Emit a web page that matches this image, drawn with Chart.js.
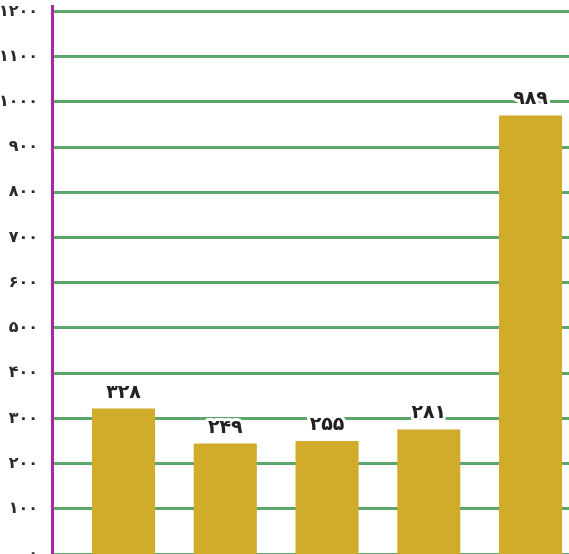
<!DOCTYPE html>
<html>
<head>
<meta charset="utf-8">
<script src="https://cdn.jsdelivr.net/npm/chart.js@4.4.1/dist/chart.umd.min.js"></script>
<style>
    html, body { margin: 0; padding: 0; background: #fff; overflow: hidden; }
    #wrap { width: 569px; height: 554px; }
</style>
</head>
<body>
<div id="wrap"><canvas id="chart" width="569" height="554"></canvas></div>
<script>
// values
const positions = [0, 1, 2, 3, 4];
const values = [328, 249, 255, 281, 989];
const yTickMax = 1200;
const yTickStep = 100;

const FA_DIGITS = "۰۱۲۳۴۵۶۷۸۹";
const toFa = (n) => String(n).replace(/\d/g, (d) => FA_DIGITS[d]);

const valueLabels = {
    id: "valueLabels",
    afterDatasetsDraw(chart) {
        const ctx = chart.ctx;
        const meta = chart.getDatasetMeta(0);
        ctx.save();
        ctx.font = "bold 19px 'DejaVu Sans'";
        ctx.textAlign = "center";
        ctx.textBaseline = "middle";
        ctx.lineJoin = "round";
        meta.data.forEach((bar, i) => {
            const txt = toFa(values[i]);
            const y = bar.y - 16;
            ctx.lineWidth = 6;
            ctx.strokeStyle = "#ffffff";
            ctx.strokeText(txt, bar.x, y);
            ctx.fillStyle = "#222222";
            ctx.fillText(txt, bar.x, y);
        });
        ctx.restore();
    },
};

new Chart(document.getElementById("chart"), {
    type: "bar",
    data: {
        datasets: [{
            data: positions.map((x, i) => ({ x: x, y: values[i] })),
            backgroundColor: "#d1ac2b",
            categoryPercentage: 1,
            barPercentage: 0.62,
            yAxisID: "yBar",
        }],
    },
    options: {
        responsive: false,
        animation: false,
        layout: { padding: { top: 6, right: 0, bottom: 0, left: 0 } },
        plugins: { legend: { display: false }, tooltip: { enabled: false } },
        scales: {
            x: {
                type: "linear",
                min: -0.703,
                max: 4.378,
                offset: false,
                display: false,
                ticks: { stepSize: 1, includeBounds: false },
            },
            y: {
                position: "left",
                min: 0,
                max: 1212,
                afterFit: (s) => { s.width = 52; s.paddingTop = 0; s.paddingBottom = 0; },
                ticks: {
                    stepSize: yTickStep,
                    includeBounds: false,
                    padding: 14,
                    color: "#2b2b2b",
                    font: { family: "DejaVu Sans", weight: "bold", size: 16 },
                    callback: (v) => (v <= yTickMax ? toFa(v) : ""),
                },
                grid: { color: "#5aa66b", lineWidth: 3, drawTicks: false },
                border: { color: "#a8299f", width: 3 },
            },
            yBar: { min: 0, max: 1236, display: false },
        },
    },
    plugins: [valueLabels],
});
</script>
</body>
</html>
